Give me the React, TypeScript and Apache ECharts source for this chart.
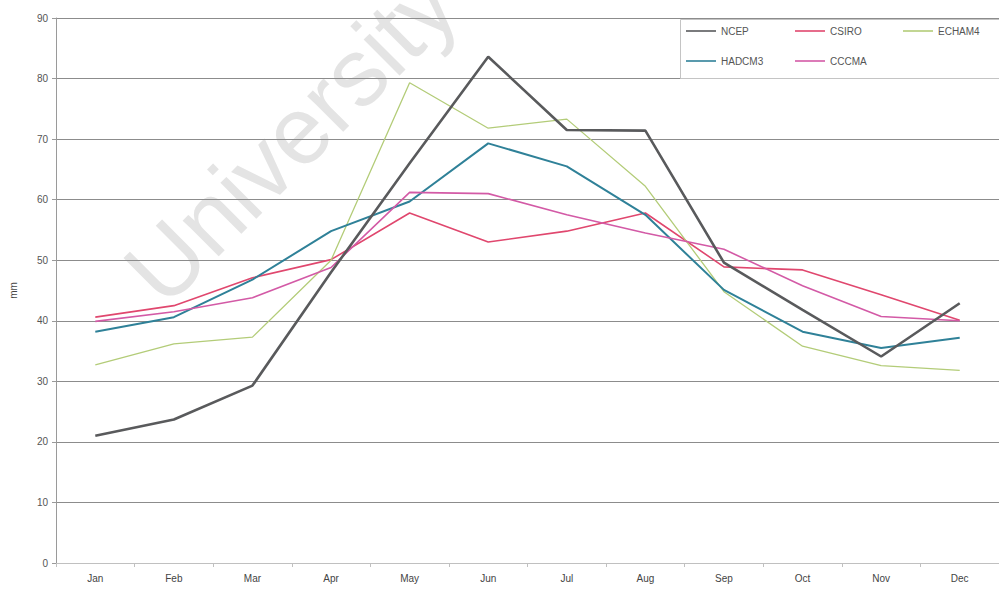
import React, { useEffect, useRef } from "react";
import * as echarts from "echarts";

const months = ["Jan", "Feb", "Mar", "Apr", "May", "Jun", "Jul", "Aug", "Sep", "Oct", "Nov", "Dec"];
const ncep = [21.0, 23.7, 29.3, 48.0, 66.0, 83.6, 71.5, 71.4, 49.6, 41.8, 34.1, 42.9];
const csiro = [40.6, 42.5, 47.1, 50.1, 57.8, 53.0, 54.8, 57.8, 48.9, 48.4, 44.3, 40.1];
const echam4 = [32.7, 36.2, 37.3, 50.0, 79.3, 71.8, 73.3, 62.2, 44.8, 35.8, 32.6, 31.8];
const hadcm3 = [38.2, 40.6, 46.8, 54.8, 59.7, 69.3, 65.5, 57.5, 45.1, 38.2, 35.5, 37.2];
const cccma = [39.9, 41.5, 43.8, 48.8, 61.2, 61.0, 57.5, 54.5, 51.8, 45.8, 40.7, 40.0];
const yTicks = { min: 0, max: 90, interval: 10 };
const yName = "mm";
const watermark = "University of Cape Town";

const seriesDefs = [
  { name: "NCEP", data: ncep, color: "#595a5c", width: 2.6 },
  { name: "CSIRO", data: csiro, color: "#e0476e", width: 1.6 },
  { name: "ECHAM4", data: echam4, color: "#b3cc78", width: 1.3 },
  { name: "HADCM3", data: hadcm3, color: "#2f8198", width: 2 },
  { name: "CCCMA", data: cccma, color: "#d35aa6", width: 1.6 },
];

const legendSlots = [
  { name: "NCEP", left: 686, top: 26 },
  { name: "CSIRO", left: 795, top: 26 },
  { name: "ECHAM4", left: 903, top: 26 },
  { name: "HADCM3", left: 686, top: 56 },
  { name: "CCCMA", left: 795, top: 56 },
];

export default function App() {
  const ref = useRef<HTMLDivElement>(null);
  useEffect(() => {
    if (!ref.current) return;
    const chart = echarts.init(ref.current, null, { renderer: "svg" });
    const S = 96;
    const th = (45 * Math.PI) / 180;
    const d = [Math.cos(th), -Math.sin(th)];
    const u = [-Math.sin(th), -Math.cos(th)];
    const base = [165, 310];
    const off = 0.35 * S;
    const wx = base[0] + off * u[0];
    const wy = base[1] + off * u[1];
    void d;
    chart.setOption({
      animation: false,
      backgroundColor: "#ffffff",
      textStyle: { fontFamily: "Liberation Sans" },
      grid: { left: 52, top: 18, width: 954, height: 545, containLabel: false },
      graphic: [
        {
          type: "text",
          x: wx,
          y: wy,
          rotation: th,
          z: -10,
          silent: true,
          style: {
            text: watermark,
            fontSize: S,
            fontFamily: "Liberation Sans",
            fill: "#e4e4e4",
            verticalAlign: "middle",
            align: "left",
          },
        },
        {
          type: "rect",
          shape: { x: 680.5, y: 19.5, width: 340, height: 59 },
          style: { fill: "#ffffff", stroke: "#c4c4c4", lineWidth: 1 },
          z: 5,
        },
      ],
      legend: legendSlots.map((l) => ({
        orient: "horizontal",
        left: l.left,
        top: l.top,
        padding: 0,
        itemWidth: 30,
        itemHeight: 12,
        itemGap: 0,
        icon: "path://M0,5.2 L30,5.2 L30,6.8 L0,6.8 Z",
        data: [l.name],
        z: 6,
        textStyle: { fontSize: 10, color: "#555", fontFamily: "Liberation Sans" },
      })),
      xAxis: {
        type: "category",
        data: months,
        boundaryGap: true,
        axisLine: { show: true, lineStyle: { color: "#c0c0c0" } },
        axisTick: { show: true, length: 4, lineStyle: { color: "#c0c0c0" } },
        axisLabel: { fontSize: 10, color: "#444", margin: 10 },
      },
      yAxis: {
        type: "value",
        min: yTicks.min,
        max: yTicks.max,
        interval: yTicks.interval,
        name: yName,
        nameLocation: "middle",
        nameGap: 38,
        nameTextStyle: { fontSize: 10, color: "#444" },
        axisLine: { show: true, lineStyle: { color: "#9a9a9a" } },
        axisTick: { show: true, length: 4, lineStyle: { color: "#9a9a9a" } },
        axisLabel: { fontSize: 10, color: "#555", margin: 8 },
        splitLine: { show: true, lineStyle: { color: "#8c8c8c", width: 1 } },
      },
      series: seriesDefs.map((s) => ({
        name: s.name,
        type: "line",
        data: s.data,
        symbol: "none",
        color: s.color,
        lineStyle: { color: s.color, width: s.width },
        z: s.name === "NCEP" ? 3 : 2,
      })),
    });
    return () => chart.dispose();
  }, []);
  return (
    <div
      ref={ref}
      style={{ position: "absolute", left: 0, top: 0, width: 999, height: 590 }}
    />
  );
}
